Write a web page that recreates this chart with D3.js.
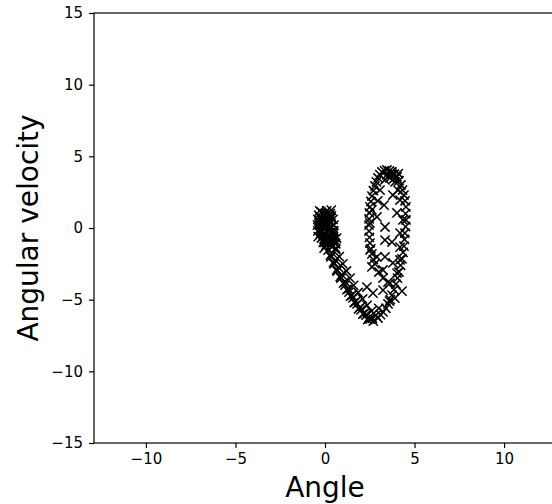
<!DOCTYPE html>
<html>
<head>
<meta charset="utf-8">
<script src="https://cdn.jsdelivr.net/npm/d3@7"></script>
<style>
  body { margin: 0; background: #fff; }
  svg { display: block; font-family: "DejaVu Sans", sans-serif; }
</style>
</head>
<body>
<svg id="plot" width="552" height="504"></svg>
<script>
// phase-space samples (angle, angular velocity)
var angle = [
  // dense cluster round the origin
  -0.2, 0.1, 0.3, -0.3, 0.0, 0.35, -0.35, 0.05, 0.3, -0.3, 0.0, 0.35, -0.3, 0.05, 0.4, -0.25,
  0.1, 0.45, -0.2, 0.15, 0.5, -0.1, 0.25, 0.6, 0.05, 0.4, -0.15, 0.2, 0.2, -0.1, 0.15, -0.1,
  0.3, 0.0, 0.2, -0.2, -0.05, 0.1, 0.25, -0.25,
  -0.1, 0.2, 0.0, 0.3, -0.2, 0.1, 0.4, -0.1, 0.25, 0.05, 0.35, -0.25, 0.15, 0.45, 0.0, 0.3,
  -0.15, 0.1, 0.25, -0.05,
  -0.4, -0.42, -0.4, -0.38, -0.35, 0.45, 0.5, 0.5, 0.48, 0.55, 0.6, 0.65, -0.3, 0.35, -0.05,
  // tail down to the bottom
  0.17, 0.33, 0.5, 0.67, 0.89, 1.12, 1.34, 1.56, 1.79, 2.01, 2.29, 2.51,
  0.6, 0.8, 1.0, 1.2, 1.4, 1.6, 1.85, 2.1, 2.35, 2.6, 2.85, 2.7,
  0.4, 0.58, 0.75, 0.93, 1.12, 1.3, 1.5, 1.7, 1.95, 2.2, 2.45, 2.65,
  0.3, 0.48, 0.66, 0.85, 1.03, 1.22, 1.42, 1.63, 1.87, 2.12, 2.38,
  // outer loop: up the right side, over the top, down the left
  2.96, 3.24, 3.52, 3.74, 3.96, 4.13, 4.3, 4.41, 4.46, 4.52, 4.52, 4.41, 4.24, 4.02, 3.74, 3.46,
  3.18, 2.96, 2.79, 2.62, 2.51, 2.46, 2.46, 2.51, 2.62, 2.79, 3.01, 3.24, 3.52,
  3.1, 3.4, 3.65, 3.85, 4.05, 4.22, 4.36, 4.44, 4.5, 4.5, 4.47, 4.33, 4.13, 3.88, 3.6, 3.32,
  3.06, 2.87, 2.7, 2.56, 2.48, 2.46, 2.48, 2.56, 2.7,
  // inner passes
  4.02, 4.35, 4.19, 3.35, 2.9, 3.35, 3.74, 4.19, 2.9, 3.35, 3.79, 4.19, 3.24, 4.02, 3.63, 3.24,
  2.68, 2.34, 3.63, 3.91, 4.07, 3.35, 3.07, 3.79, 4.19, 2.62, 2.51, 2.51, 2.62, 3.9, 4.3,
  3.0, 3.6, 3.3, 2.95, 3.75, 4.1, 3.55, 3.7, 3.45, 3.85
];
var angVel = [
  1.1, 1.2, 1.0, 0.8, 0.9, 0.7, 0.5, 0.6, 0.4, 0.2, 0.3, 0.1, -0.1, 0.0, -0.2, -0.4,
  -0.3, -0.5, -0.7, -0.6, -0.8, -1.0, -0.9, -1.1, -1.2, -1.3, 0.0, 0.2, -0.1, 0.4, 0.8, -0.5,
  -0.6, -0.8, 0.5, 0.6, 1.0, -1.0, 0.9, -0.2,
  0.1, 0.7, -0.4, 0.0, -0.3, 1.0, -0.9, 0.3, 0.45, -0.65, 0.85, 0.35, -0.15, -0.35, -1.0, -1.2,
  0.65, 0.15, -0.45, -0.75,
  0.6, 0.2, -0.2, -0.6, 0.9, 0.6, 0.2, -0.2, -0.6, -1.0, -1.4, -0.7, 1.2, 1.25, -1.4,
  -1.54, -2.02, -2.51, -3.0, -3.49, -3.98, -4.47, -4.88, -5.3, -5.72, -6.07, -6.35,
  -1.5, -2.0, -2.5, -3.0, -3.5, -4.0, -4.5, -4.95, -5.4, -5.8, -6.1, -6.5,
  -1.75, -2.25, -2.75, -3.25, -3.75, -4.25, -4.7, -5.15, -5.55, -5.95, -6.25, -6.3,
  -1.9, -2.4, -2.9, -3.4, -3.85, -4.3, -4.75, -5.2, -5.65, -6.0, -6.4,
  -6.28, -5.86, -5.3, -4.68, -3.91, -3.07, -2.16, -1.26, -0.35, 0.56, 1.47, 2.3, 3.0, 3.56, 3.91, 4.05,
  3.91, 3.49, 2.93, 2.23, 1.47, 0.63, -0.21, -1.05, -1.81, -2.51, -3.07, -3.49, -3.77,
  -6.05, -5.6, -5.0, -4.3, -3.5, -2.6, -1.7, -0.8, 0.1, 1.0, 1.9, 2.65, 3.3, 3.75, 3.98, 4.0,
  3.72, 3.22, 2.6, 1.85, 1.05, 0.2, -0.65, -1.45, -2.2,
  1.05, 0.56, -0.35, 0.07, 0.77, -0.84, -0.98, -1.33, -2.02, -2.02, -2.44, -2.23, -2.93, -3.14, -3.84, -4.33,
  -4.54, -4.12, 3.49, 3.21, 2.65, 3.35, 2.65, 2.3, 1.95, 1.26, 0.35, -1.54, -2.72, -4.9, -4.4,
  -5.6, -5.1, 1.6, 1.9, 3.75, 3.8, 3.6, 3.9, 3.7, 3.45
];
var xTicks = [-10, -5, 0, 5, 10];
var yTicks = [-15, -10, -5, 0, 5, 10, 15];

var xScale = d3.scaleLinear().domain([-12.9, 12.9]).range([94, 556]);
var yScale = d3.scaleLinear().domain([-15, 15]).range([443, 13]);

var svg = d3.select("#plot");

// markers
var pts = angle.map(function(a, i){ return [a, angVel[i]]; });
var s = 4.6;
svg.append("g")
   .selectAll("path")
   .data(pts)
   .enter()
   .append("path")
   .attr("d", function(d){
       var cx = xScale(d[0]), cy = yScale(d[1]);
       return "M" + (cx - s) + "," + (cy - s) + "L" + (cx + s) + "," + (cy + s) +
              "M" + (cx - s) + "," + (cy + s) + "L" + (cx + s) + "," + (cy - s);
   })
   .attr("stroke", "#000")
   .attr("stroke-width", 1.5)
   .attr("fill", "none");

// frame
svg.append("rect")
   .attr("x", xScale(-12.9)).attr("y", yScale(15))
   .attr("width", xScale(12.9) - xScale(-12.9))
   .attr("height", yScale(-15) - yScale(15))
   .attr("fill", "none").attr("stroke", "#000").attr("stroke-width", 1.2);

var fmt = function(d){ return d < 0 ? "\u2212" + Math.abs(d) : d; };

var xAxis = svg.append("g")
   .attr("transform", "translate(0," + yScale(-15) + ")")
   .call(d3.axisBottom(xScale).tickValues(xTicks).tickSize(5).tickPadding(5).tickFormat(fmt));
var yAxis = svg.append("g")
   .attr("transform", "translate(" + xScale(-12.9) + ",0)")
   .call(d3.axisLeft(yScale).tickValues(yTicks).tickSize(5).tickPadding(6).tickFormat(fmt));

[xAxis, yAxis].forEach(function(g){
  g.select(".domain").remove();
  g.selectAll("line").attr("stroke", "#000").attr("stroke-width", 1.2);
  g.selectAll("text").attr("fill", "#000").style("font-size", "15px")
   .style("font-family", "DejaVu Sans, sans-serif");
});

svg.append("text")
   .attr("x", xScale(0)).attr("y", 497)
   .attr("text-anchor", "middle")
   .style("font-size", "28px")
   .text("Angle");

svg.append("text")
   .attr("transform", "translate(38," + yScale(0) + ") rotate(-90)")
   .attr("text-anchor", "middle")
   .style("font-size", "28px")
   .text("Angular velocity");
</script>
</body>
</html>
